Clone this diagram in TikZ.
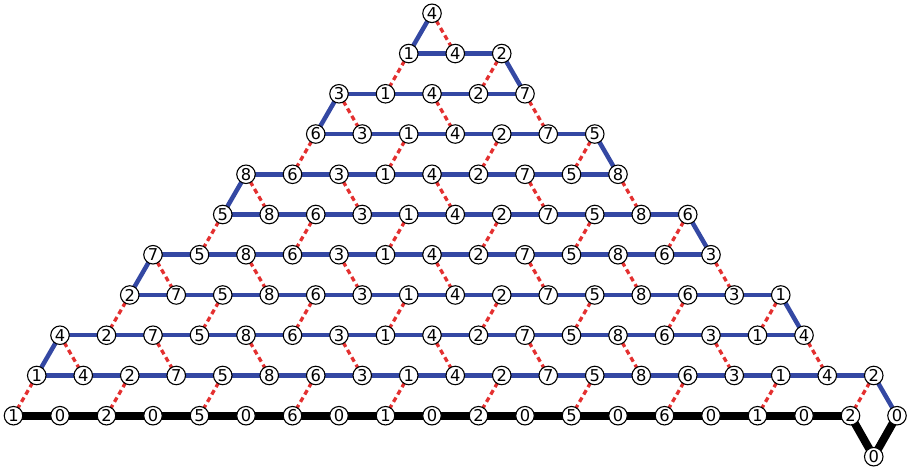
\documentclass[tikz,border=0pt]{standalone}
\usepackage{fontspec}
\setmainfont{DejaVu Sans}
\usetikzlibrary{backgrounds}
\definecolor{eblue}{RGB}{52,72,163}
\definecolor{ered}{RGB}{228,48,48}
\newcommand\seqval[1]{\ifcase#1 1\or 4\or 2\or 7\or 5\or 8\or 6\or 3\fi}
\begin{document}
\begin{tikzpicture}[x=1pt,y=1pt,
  vtx/.style={circle,draw=black,line width=1.1pt,fill=white,minimum size=18.5pt,inner sep=0pt,font=\fontsize{16.3}{17}\selectfont},
  bluee/.style={draw=eblue,line width=4.5pt,line join=round},
  blacke/.style={draw=black,line width=8pt,line join=round},
  rede/.style={draw=ered,line width=3.3pt,dash pattern=on 5pt off 3.5pt}]
\useasboundingbox (0,0) rectangle (907,-469);
% vertices
\foreach \rr/\ra/\rb in {0/0/38,1/1/37,2/2/34,3/5/33,4/6/30,5/9/29,6/10/26,7/13/25,8/14/22,9/17/21,10/18/18}{
  \pgfmathtruncatemacro\cnt{(\rb-\ra)/2}
  \foreach \ii in {0,...,\cnt}{
    \pgfmathtruncatemacro\kk{\ra+2*\ii}
    \pgfmathtruncatemacro\hm{\kk/2}
    \pgfmathtruncatemacro\hmm{mod(\hm,8)}
    \pgfmathtruncatemacro\hmo{mod(\hm,2)}
    \ifnum\rr=0 \ifnum\hmo=1 \def\lab{0}\else\def\lab{\seqval{\hmm}}\fi\else\def\lab{\seqval{\hmm}}\fi
    \node[vtx] (n-\rr-\kk) at ({13.5+23.25*\kk},{-415.7+40.24*\rr}) {\lab};
  }
}
\node[vtx] (z) at (873.75,-456.7) {0};
\begin{pgfonlayer}{background}
  % horizontal blue rows
  \foreach \rr/\ra/\rb in {1/1/37,2/2/34,3/5/33,4/6/30,5/9/29,6/10/26,7/13/25,8/14/22,9/17/21}{
    \pgfmathtruncatemacro\cnt{(\rb-\ra)/2}
    \foreach \ii in {1,...,\cnt}{
      \pgfmathtruncatemacro\kk{\ra+2*\ii}
      \pgfmathtruncatemacro\kp{\kk-2}
      \draw[bluee] (n-\rr-\kp.center) -- (n-\rr-\kk.center);
    }
  }
  % bottom black row
  \foreach \ii in {1,...,18}{
    \pgfmathtruncatemacro\kk{2*\ii}
    \pgfmathtruncatemacro\kp{\kk-2}
    \draw[blacke] (n-0-\kp.center) -- (n-0-\kk.center);
  }
  \draw[blacke] (n-0-36.center) -- (z.center) -- (n-0-38.center);
  % blue slanted ends
  \foreach \ra/\ka/\rb/\kb in {10/18/9/17,8/14/7/13,6/10/5/9,4/6/3/5,2/2/1/1,9/21/8/22,7/25/6/26,5/29/4/30,3/33/2/34,1/37/0/38}{
    \draw[bluee] (n-\ra-\ka.center) -- (n-\rb-\kb.center);
  }
  % red dashed matching
  \foreach \rr/\ra/\rb in {1/1/37,2/2/34,3/5/33,4/6/30,5/9/29,6/10/26,7/13/25,8/14/22,9/17/21,10/18/18}{
    \pgfmathtruncatemacro\cnt{(\rb-\ra)/2}
    \pgfmathtruncatemacro\rl{\rr-1}
    \foreach \ii in {0,...,\cnt}{
      \pgfmathtruncatemacro\kk{\ra+2*\ii}
      \pgfmathtruncatemacro\hm{\kk/2}
      \pgfmathtruncatemacro\cond{mod(\hm+\rr+1,2)}
      \pgfmathtruncatemacro\rodd{mod(\rr,2)}
      \ifnum\rodd=1 \pgfmathtruncatemacro\kq{\kk-1}\else\pgfmathtruncatemacro\kq{\kk+1}\fi
      \ifnum\cond=0
        \draw[rede] (n-\rr-\kk.center) -- (n-\rl-\kq.center);
      \fi
    }
  }
\end{pgfonlayer}
\end{tikzpicture}
\end{document}
